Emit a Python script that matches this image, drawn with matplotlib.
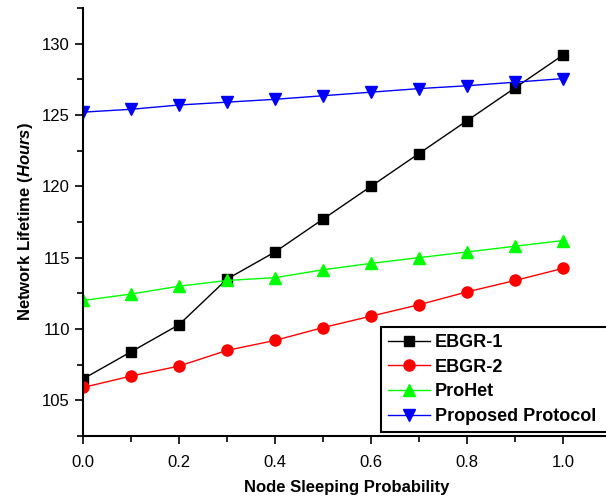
import matplotlib
matplotlib.use("Agg")
import matplotlib.pyplot as plt
from matplotlib.ticker import MultipleLocator

plt.rcParams['font.family'] = ['Liberation Sans', 'DejaVu Sans']
plt.rcParams['mathtext.fontset'] = 'custom'
plt.rcParams['mathtext.it'] = 'Liberation Sans:italic:bold'
plt.rcParams['mathtext.rm'] = 'Liberation Sans:bold'

x = [0.0, 0.1, 0.2, 0.3, 0.4, 0.5, 0.6, 0.7, 0.8, 0.9, 1.0]
ebgr1 = [106.5, 108.4, 110.3, 113.5, 115.4, 117.7, 120.0, 122.3, 124.6, 126.9, 129.2]
ebgr2 = [105.9, 106.7, 107.4, 108.5, 109.2, 110.1, 110.9, 111.7, 112.6, 113.4, 114.25]
prohet = [112.0, 112.45, 113.0, 113.4, 113.6, 114.15, 114.6, 115.0, 115.4, 115.8, 116.2]
proposed = [125.2, 125.4, 125.7, 125.9, 126.1, 126.35, 126.6, 126.85, 127.05, 127.3, 127.55]

fig = plt.figure(figsize=(6.06, 4.99), dpi=100)
ax = fig.add_axes([83/606, 63/499, 528/606, 428/499])

ax.plot(x, ebgr1, color='black', marker='s', markersize=7, lw=1, label='EBGR-1')
ax.plot(x, ebgr2, color='red', marker='o', markersize=8, lw=1, label='EBGR-2')
ax.plot(x, prohet, color='#00ff00', marker='^', markersize=8, lw=1, label='ProHet')
ax.plot(x, proposed, color='blue', marker='v', markersize=8, lw=1, label='Proposed Protocol')

ax.set_xlim(0, 1.1)
ax.set_ylim(102.5, 132.5)
ax.xaxis.set_major_locator(MultipleLocator(0.2))
ax.xaxis.set_minor_locator(MultipleLocator(0.1))
ax.yaxis.set_major_locator(MultipleLocator(5))
ax.yaxis.set_minor_locator(MultipleLocator(2.5))
ax.xaxis.set_major_formatter(matplotlib.ticker.FormatStrFormatter('%.1f'))
ax.tick_params(which='major', length=6, width=1.2, labelsize=12, direction='out')
ax.tick_params(axis='x', which='major', pad=8)
ax.tick_params(which='minor', length=4, width=1.2, direction='out')
ax.spines['top'].set_visible(False)
ax.spines['right'].set_visible(False)
ax.spines['left'].set_linewidth(1.5)
ax.spines['bottom'].set_linewidth(1.5)

ax.set_xlabel('Node Sleeping Probability', fontsize=12, fontweight='bold', labelpad=7)
ax.set_ylabel(r'Network Lifetime ($\mathit{Hours}$)', fontsize=12, fontweight='bold', labelpad=5)

leg = fig.legend(loc='upper left', bbox_to_anchor=(381/606, 172/499, 240/606, 0.0),
                 bbox_transform=fig.transFigure, mode='expand', fancybox=False, framealpha=1,
                 edgecolor='black', prop={'weight': 'bold', 'size': 13},
                 handlelength=2.3, borderpad=0.4, labelspacing=0.42, handletextpad=0.3,
                 borderaxespad=0)
leg.get_frame().set_linewidth(1.5)

fig.savefig('out.png', dpi=100)
